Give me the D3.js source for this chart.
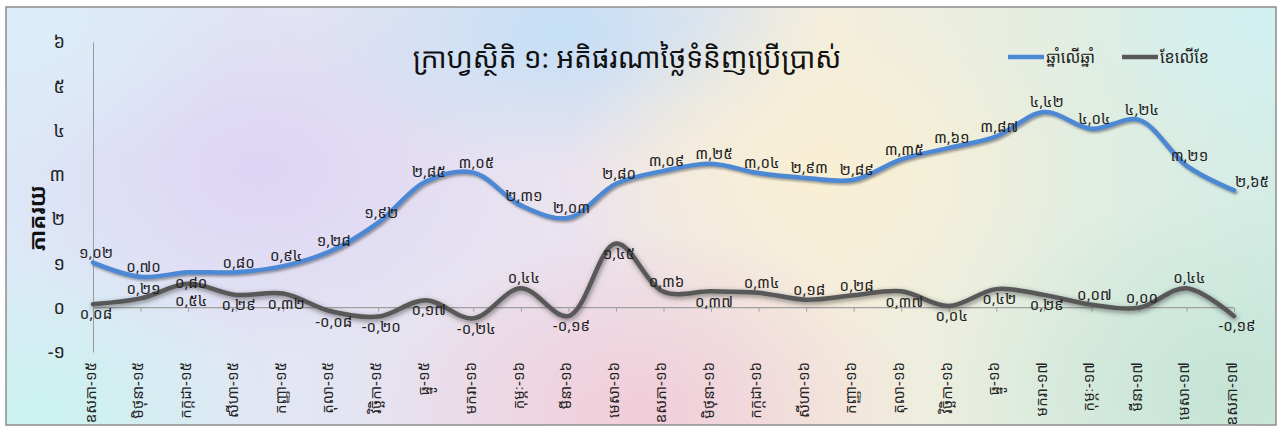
<!DOCTYPE html>
<html><head><meta charset="utf-8">
<script src="https://cdn.jsdelivr.net/npm/d3@7"></script>
<style>html,body{margin:0;padding:0;background:#fff;} svg{display:block;}</style>
</head><body><svg id="c" width="1282" height="428"></svg>
<script>
const categories = ["ឧសភា-១៥","មិថុនា-១៥","កក្កដា-១៥","សីហា-១៥","កញ្ញា-១៥","តុលា-១៥","វិច្ឆិកា-១៥","ធ្នូ-១៥",
  "មករា-១៦","កុម្ភៈ-១៦","មីនា-១៦","មេសា-១៦","ឧសភា-១៦","មិថុនា-១៦","កក្កដា-១៦","សីហា-១៦","កញ្ញា-១៦","តុលា-១៦","វិច្ឆិកា-១៦","ធ្នូ-១៦",
  "មករា-១៧","កុម្ភៈ-១៧","មីនា-១៧","មេសា-១៧","ឧសភា-១៧"];
const yearOnYear = [1.02,0.70,0.80,0.80,0.94,1.28,1.92,2.85,3.05,2.31,2.03,2.80,3.09,3.25,3.04,2.93,2.89,3.35,3.61,3.87,4.42,4.04,4.24,3.21,2.65];
const monthOnMonth = [0.08,0.21,0.54,0.29,0.32,-0.08,-0.20,0.17,-0.24,0.44,-0.19,1.45,0.36,0.37,0.34,0.18,0.28,0.37,0.04,0.42,0.29,0.07,0.00,0.44,-0.19];
const yTicks = [-1,0,1,2,3,4,5,6];
const seriesNames = ["ឆ្នាំលើឆ្នាំ","ខែលើខែ"];
const chartTitle = "ក្រាហ្វស្ថិតិ ១: អតិផរណាថ្លៃទំនិញប្រើប្រាស់";
const yAxisTitle = "ភាគរយ";
// label placement (t = above, b = below, bb = further below, r = above-right)
const yoyLabelSide = ["t","t","b","t","t","t","t","t","t","t","t","t","t","t","t","t","t","t","t","t","t","t","t","t","r"];
const momLabelSide = ["b","t","bb","b","b","b","b","b","b","t","b","b","t","b","t","t","t","b","b","b","b","t","t","t","b"];

const KH = "០១២៣៤៥៦៧៨៩";
const kh = s => String(s).replace(/[0-9]/g, d => KH[+d]).replace(".", ",");
const fmt = v => kh(v.toFixed(2));
const FONT = "'Khmer OS Battambang','Noto Sans Khmer','Khmer OS','Noto Sans',sans-serif";

const svg = d3.select("#c");
const defs = svg.append("defs");

// background
const bx0 = 6, by0 = 7, bx1 = 1276, by1 = 425;
const lg = defs.append("linearGradient").attr("id","bg0").attr("x1","0").attr("x2","1").attr("y1","0").attr("y2","0");
[["0%","#dce9f7"],["45%","#eae2ef"],["65%","#f4eedc"],["100%","#d3ede6"]].forEach(([o,c]) => lg.append("stop").attr("offset",o).attr("stop-color",c));
const blobs = [
  {id:"b1", cx:260, cy:170, rx:270, ry:190, c:"#ded4f5"},
  {id:"b2", cx:560, cy:30, rx:260, ry:140, c:"#c4dff6"},
  {id:"b3", cx:820, cy:170, rx:260, ry:170, c:"#f8efd4"},
  {id:"b4", cx:640, cy:410, rx:280, ry:180, c:"#f1cdd8"},
  {id:"b5", cx:40, cy:420, rx:230, ry:170, c:"#cbf3ef"},
  {id:"b6", cx:1230, cy:390, rx:280, ry:200, c:"#c6e4d6"},
  {id:"b7", cx:1270, cy:20, rx:200, ry:140, c:"#d3f1f2"},
  {id:"b8", cx:40, cy:30, rx:200, ry:140, c:"#dcecf9"}
];
blobs.forEach(b => {
  const rg = defs.append("radialGradient").attr("id", b.id);
  rg.append("stop").attr("offset","0%").attr("stop-color",b.c).attr("stop-opacity",1);
  rg.append("stop").attr("offset","100%").attr("stop-color",b.c).attr("stop-opacity",0);
});
defs.append("clipPath").attr("id","clipbg").append("rect").attr("x",bx0).attr("y",by0).attr("width",bx1-bx0).attr("height",by1-by0);
const bg = svg.append("g").attr("clip-path","url(#clipbg)");
bg.append("rect").attr("x",bx0).attr("y",by0).attr("width",bx1-bx0).attr("height",by1-by0).attr("fill","url(#bg0)");
blobs.forEach(b => bg.append("ellipse").attr("cx",b.cx).attr("cy",b.cy).attr("rx",b.rx).attr("ry",b.ry).attr("fill",`url(#${b.id})`));
svg.append("rect").attr("x",bx0).attr("y",by0).attr("width",bx1-bx0).attr("height",by1-by0)
  .attr("fill","none").attr("stroke","#8c8c8c").attr("stroke-width",1.5);

// shadows
const f1 = defs.append("filter").attr("id","sh1").attr("x","-5%").attr("y","-20%").attr("width","110%").attr("height","140%");
f1.append("feDropShadow").attr("dx",1.5).attr("dy",2).attr("stdDeviation",1.2).attr("flood-color","#555").attr("flood-opacity",0.55);
const f2 = defs.append("filter").attr("id","sh2").attr("x","-5%").attr("y","-20%").attr("width","110%").attr("height","140%");
f2.append("feDropShadow").attr("dx",1).attr("dy",2).attr("stdDeviation",2.5).attr("flood-color","#333").attr("flood-opacity",0.6);

// scales
const x = d3.scalePoint().domain(categories).range([93, 1234]);
const y = d3.scaleLinear().domain([-1, 6]).range([352, 42]);

// y axis
const ya = svg.append("g").attr("transform","translate(93,0)")
  .call(d3.axisLeft(y).tickValues(yTicks).tickSize(0).tickPadding(28).tickFormat(d => kh(d)));
ya.select(".domain").attr("stroke","#9a9a9a").attr("stroke-width",1);
ya.selectAll("text").attr("font-family",FONT).attr("font-size",18).attr("fill","#222");

// x axis at zero
const xa = svg.append("g").attr("transform",`translate(0,${y(0)})`)
  .call(d3.axisBottom(x).tickSize(4).tickFormat(""));
xa.select(".domain").attr("stroke","#a0a0a0").attr("stroke-width",1.2).attr("d",`M93,0H1234`);
xa.selectAll(".tick line").attr("stroke","#a0a0a0");

// category labels at bottom
const xl = svg.append("g").attr("transform","translate(-3,358)")
  .call(d3.axisBottom(x).tickSize(0).tickFormat(d => d));
xl.select(".domain").remove();
xl.selectAll("text").attr("transform","rotate(-90)").attr("x",-4).attr("y",0).attr("dy","0.35em")
  .attr("text-anchor","end").attr("font-family",FONT).attr("font-size",15).attr("fill","#222");

// y title
svg.append("text").attr("transform","translate(37,218) rotate(-90)").attr("text-anchor","middle").attr("dy","0.35em")
  .attr("font-family",FONT).attr("font-weight","bold").attr("font-size",22).attr("fill","#111").text(yAxisTitle);

// title
svg.append("text").attr("x",627).attr("y",58).attr("dy","0.35em").attr("text-anchor","middle")
  .attr("font-family",FONT).attr("font-size",28).attr("fill","#111").text(chartTitle);

// lines
const line = d3.line().x((d,i) => x(categories[i])).y(d => y(d)).curve(d3.curveCatmullRom.alpha(0.5));
svg.append("path").attr("d", line(monthOnMonth)).attr("fill","none").attr("stroke","#585858").attr("stroke-width",4.5)
  .attr("stroke-linecap","round").attr("filter","url(#sh2)");
svg.append("path").attr("d", line(yearOnYear)).attr("fill","none").attr("stroke","#4d88d4").attr("stroke-width",4.5)
  .attr("stroke-linecap","round").attr("filter","url(#sh1)");

// data labels
function labels(vals, sides) {
  const g = svg.append("g").attr("font-family",FONT).attr("font-size",15).attr("fill","#222");
  vals.forEach((v,i) => {
    const px = x(categories[i]), py = y(v), s = sides[i];
    let dx = 3, dy = -10;
    if (s === "b") dy = 10;
    if (s === "bb") dy = 17;
    if (s === "r") { dx = 18; dy = -9; }
    g.append("text").attr("x", px + dx).attr("y", py + dy).attr("dy","0.35em").attr("text-anchor","middle").text(fmt(v));
  });
}
labels(yearOnYear, yoyLabelSide);
labels(monthOnMonth, momLabelSide);

// legend
const leg = svg.append("g").attr("font-family",FONT).attr("font-size",16).attr("fill","#222");
[[seriesNames[0],"#4d88d4",1008],[seriesNames[1],"#585858",1122]].forEach(([n,c,lx]) => {
  leg.append("line").attr("x1",lx).attr("x2",lx+36).attr("y1",57).attr("y2",57).attr("stroke",c).attr("stroke-width",4.5);
  leg.append("text").attr("x",lx+38).attr("y",57).attr("dy","0.35em").text(n);
});
</script></body></html>
